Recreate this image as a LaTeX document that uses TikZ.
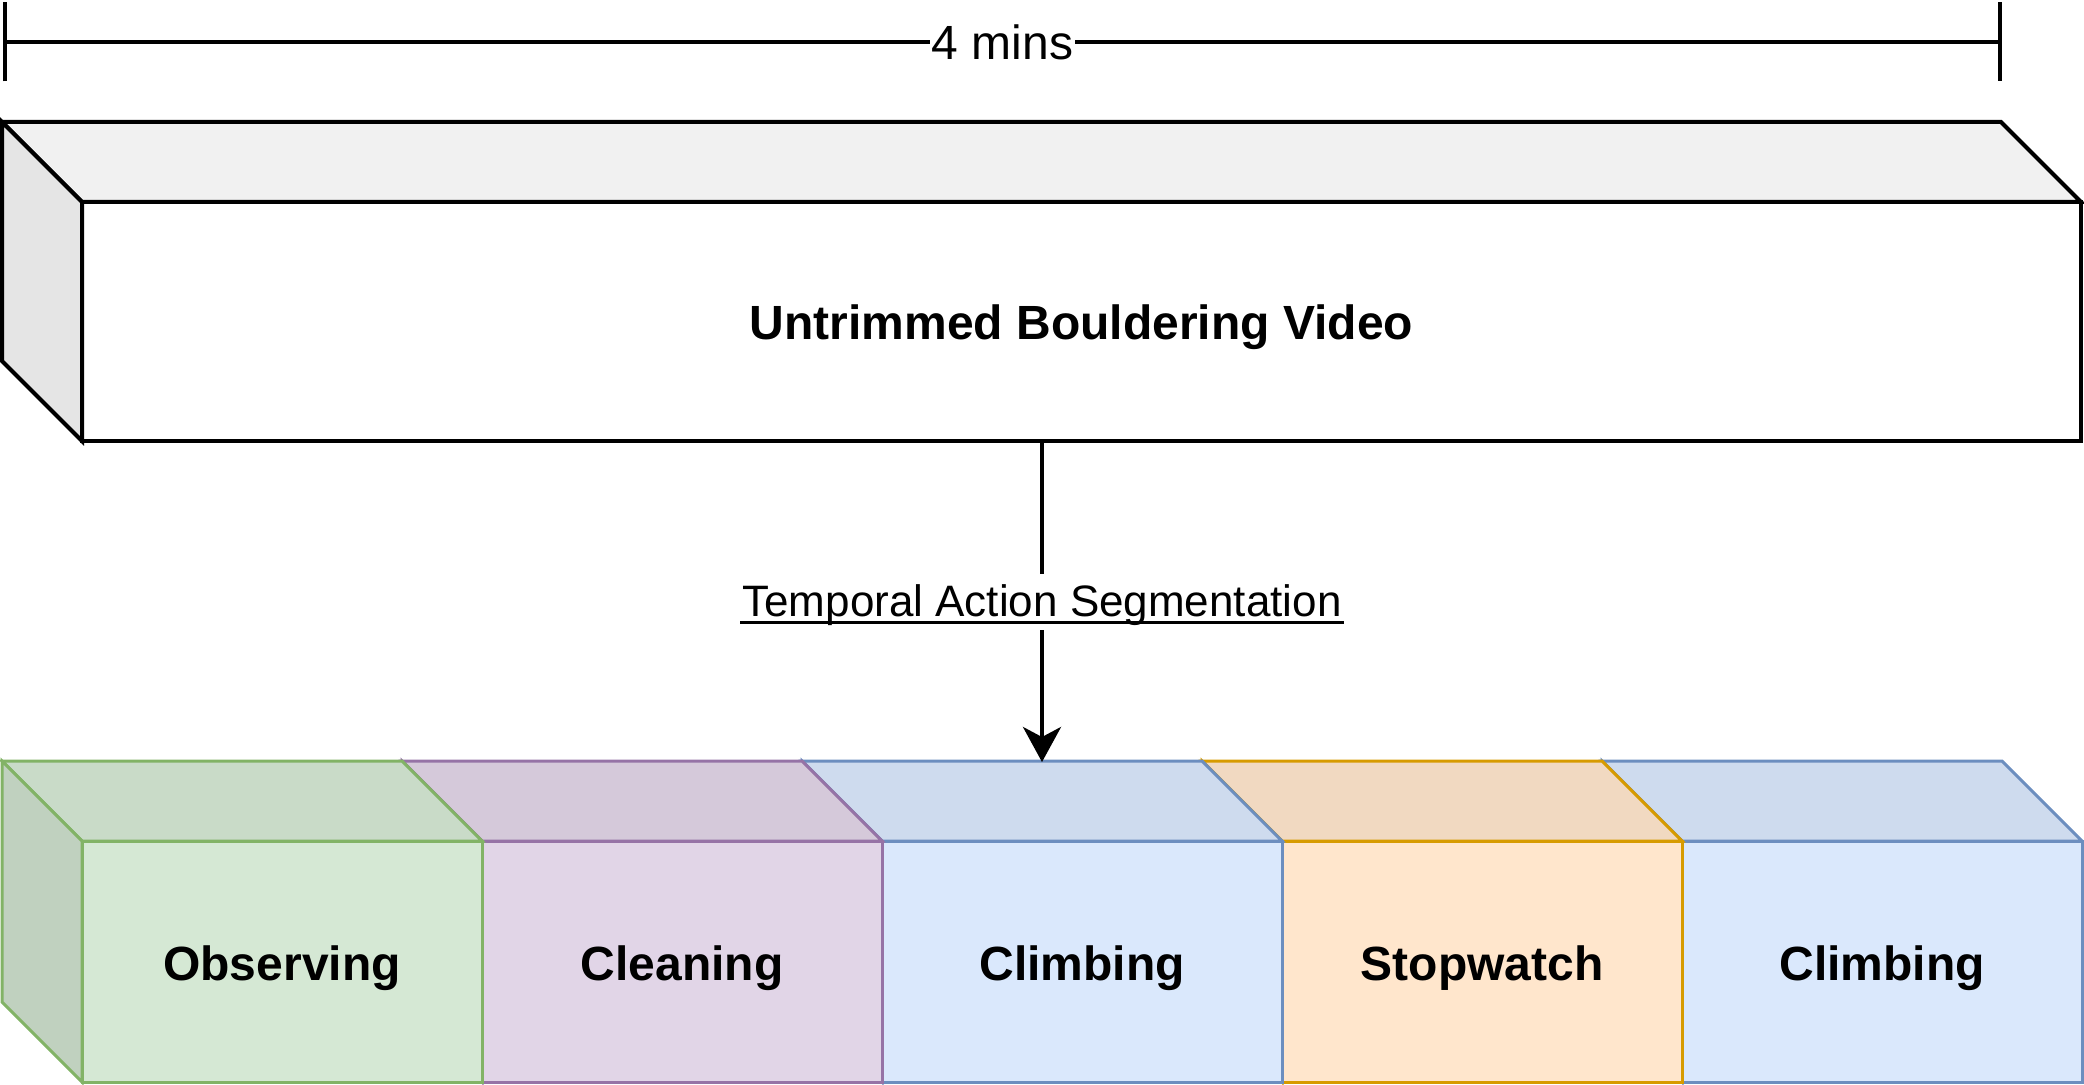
\documentclass[tikz,border=0pt]{standalone}
\usepackage{fontspec}
\setmainfont{Liberation Sans}
\usetikzlibrary{positioning, arrows.meta}

\definecolor{obsfill}{HTML}{D5E8D4}
\definecolor{obsline}{HTML}{82B366}
\definecolor{clnfill}{HTML}{E1D5E7}
\definecolor{clnline}{HTML}{9673A6}
\definecolor{clbfill}{HTML}{DAE8FC}
\definecolor{clbline}{HTML}{6C8EBF}
\definecolor{stwfill}{HTML}{FFE6CC}
\definecolor{stwline}{HTML}{D79B00}

\begin{document}
\begin{tikzpicture}[
    x=0.5pt, y=0.5pt,
    front/.style={rectangle, draw, outer sep=0pt, line width=1.5pt, minimum width=200pt, minimum height=120.5pt, text height=18.5pt, text depth=0pt, font=\fontsize{24}{28}\selectfont\bfseries},
    face/.style={line width=1.5pt},
    dim/.style={line width=2pt, {Bar[width=39.5pt]}-{Bar[width=39.5pt]}},
    conn/.style={line width=2pt, -{Stealth[length=17.5pt, width=19pt, inset=5pt]}},
]
    \useasboundingbox (0,0) rectangle (2084,1084);

    % Duration of the video
    \coordinate (dim_l) at (3,1042);
    \coordinate (dim_r) at (2002,1042);
    \draw[dim] (dim_l) -- (dim_r) node[midway, fill=white, inner xsep=1pt, inner ysep=0pt, font=\fontsize{24}{28}\selectfont] (dur) {4 mins};

    % Untrimmed video
    \node[front, line width=2pt, fill=white, minimum width=999.5pt, minimum height=119.5pt] (video) at (1081.5,762.5) {Untrimmed Bouldering Video};
    \draw[face, line width=2pt, fill=white!94.5!black] (video.north west) -- ++(-80,80) -- ([shift={(-80,80)}]video.north east) -- (video.north east) -- cycle;
    \draw[face, line width=2pt, fill=white!90!black] (video.north west) -- ++(-80,80) -- ([shift={(-80,80)}]video.south west) -- (video.south west) -- cycle;

    % Segments, drawn right to left
    \foreach \i/\txt/\col in {5/Climbing/clb, 4/Stopwatch/stw, 3/Climbing/clb, 2/Cleaning/cln, 1/Observing/obs} {
        \node[front, draw=\col line, fill=\col fill] (seg\i) at ({282+400*(\i-1)},122.5) {\txt};
        \draw[face, draw=\col line, fill=\col fill!94.5!black] (seg\i.north west) -- ++(-80,80) -- ([shift={(-80,80)}]seg\i.north east) -- (seg\i.north east) -- cycle;
        \draw[face, draw=\col line, fill=\col fill!90!black] (seg\i.north west) -- ++(-80,80) -- ([shift={(-80,80)}]seg\i.south west) -- (seg\i.south west) -- cycle;
    }

    % Segmentation step
    \coordinate (video_out) at (1042,643);
    \coordinate (seg_in) at (1042,322);
    \draw[conn] (video_out) -- (seg_in) node[midway, fill=white, inner xsep=0pt, inner ysep=2pt, text height=19.5pt, text depth=4.5pt, font=\fontsize{22}{26}\selectfont] (tas) {Temporal Action Segmentation};
    \draw[line width=1.5pt] ([yshift=-3pt]tas.base west) -- ([yshift=-3pt]tas.base east);
\end{tikzpicture}
\end{document}
